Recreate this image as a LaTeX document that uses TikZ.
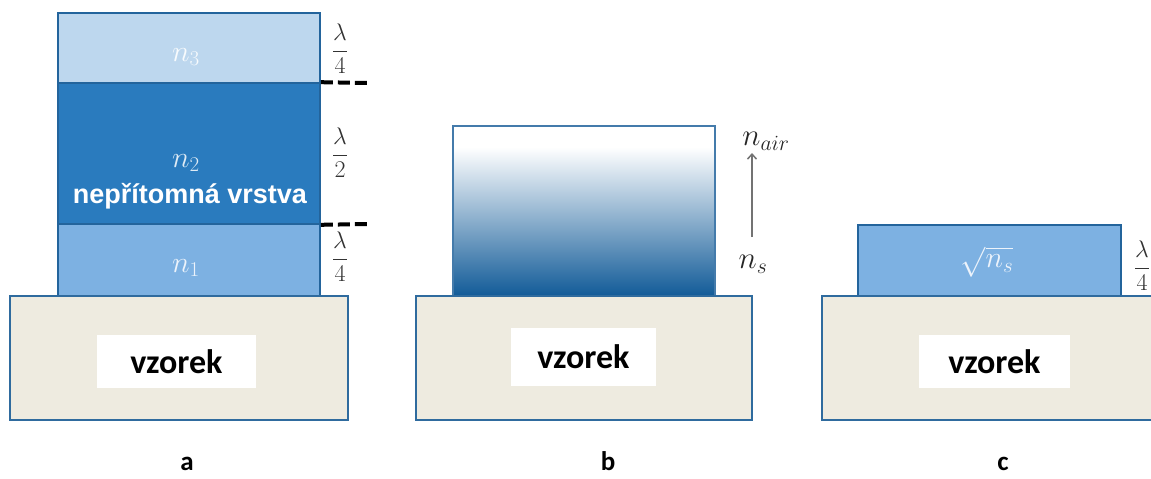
\documentclass[tikz,border=0pt]{standalone}
\usepackage{fix-cm}
\usepackage{fontspec}
\setmainfont{Carlito}
\newfontfamily\arialfont{Liberation Sans}
\usetikzlibrary{arrows.meta}
\definecolor{sfill}{HTML}{EEEBE0}
\definecolor{sborder}{HTML}{2F6B9E}
\definecolor{lborder}{HTML}{23649C}
\definecolor{cthree}{HTML}{BDD7EE}
\definecolor{ctwo}{HTML}{2A7BBE}
\definecolor{cone}{HTML}{7DB1E2}
\definecolor{bdark}{HTML}{125B98}
\definecolor{bmid}{HTML}{B0CCEA}
\definecolor{lamcol}{HTML}{333333}
\begin{document}
\begin{tikzpicture}[x=1pt,y=-1pt,
  layer/.style={draw=lborder, line width=1.6pt, inner sep=0pt},
  substrate/.style={draw=sborder, fill=sfill, line width=1.6pt, inner sep=0pt},
  whitebox/.style={fill=white, inner sep=0pt, font=\fontsize{34}{40}\selectfont\bfseries},
  lam/.style={text=lamcol, inner sep=0pt, font=\fontsize{24}{28}\selectfont},
  ntext/.style={inner sep=0pt, font=\fontsize{30}{34}\selectfont},
  side/.style={inner sep=0pt, text=black!85, font=\fontsize{31}{36}\selectfont},
  dashline/.style={line width=4pt, dash pattern=on 12pt off 5pt},
  lbl/.style={inner sep=0pt, anchor=base, font=\fontsize{27}{30}\selectfont\bfseries}
]
\useasboundingbox (0,0) rectangle (1151,479);
\clip (0,0) rectangle (1151,479);

% ---------- panel a ----------
\node[layer, fill=cthree, minimum width=262, minimum height=70] (n3) at (189,48) {};
\node[layer, fill=ctwo, minimum width=262, minimum height=141] (n2) at (189,153.5) {};
\node[layer, fill=cone, minimum width=262, minimum height=72] (n1) at (189,260) {};
\node[ntext, text=white!90!cthree] (t3) at (186,57) {$n_3$};
\node[ntext, text=white!85!ctwo] (t2) at (186,163) {$n_2$};
\node[inner sep=0pt, text=white, font=\arialfont\fontsize{27}{30}\selectfont\bfseries] (t2b) at (190,196) {nepřítomná vrstva};
\node[ntext, text=white!85!cone] (t1) at (186,268) {$n_1$};
\node[substrate, minimum width=338, minimum height=124] (sa) at (179,358) {};
\node[whitebox, minimum width=159, minimum height=53] (va) at (176.5,361.5) {vzorek};
\coordinate (d1) at (370,83);
\coordinate (d2) at (370,224);
\draw[dashline] (n2.north east) -- (d1);
\draw[dashline] (n2.south east) -- (d2);
\node[lam] (la1) at (340,49) {$\displaystyle\frac{\lambda}{4}$};
\node[lam] (la2) at (340,153) {$\displaystyle\frac{\lambda}{2}$};
\node[lam] (la3) at (340,257) {$\displaystyle\frac{\lambda}{4}$};
\node[lbl] (A) at (187,470) {a};

% ---------- panel b ----------
\fill[white] (453,126) rectangle (715,147);
\shade[top color=white, middle color=bmid, bottom color=bdark] (453,147) rectangle (715,296);
\node[layer, draw=lborder!85, minimum width=262, minimum height=170] (gb) at (584,211) {};
\node[substrate, minimum width=336, minimum height=124] (sb) at (584,358) {};
\node[whitebox, minimum width=145, minimum height=58] (vb) at (583.5,357) {vzorek};
\node[side] (nair) at (766,141) {$n_{air}$};
\node[side] (ns) at (753,264) {$n_s$};
\coordinate (arA) at (752,237);
\coordinate (arB) at (752,153);
\draw[line width=1.5pt, draw=black!55, -{Straight Barb[length=5pt,width=9pt]}] (arA) -- (arB);
\node[lbl] (B) at (608,470) {b};

% ---------- panel c ----------
\node[layer, fill=cone, minimum width=263, minimum height=71] (lc) at (989.5,260.5) {};
\node[ntext, text=white!85!cone] (tc) at (987,262) {$\sqrt{n_s}$};
\node[substrate, minimum width=343, minimum height=124] (sc) at (993.5,358) {};
\node[whitebox, minimum width=151, minimum height=53] (vc) at (994.5,361.5) {vzorek};
\node[lam] (lc1) at (1142,266) {$\displaystyle\frac{\lambda}{4}$};
\node[lbl] (C) at (1003,470) {c};
\end{tikzpicture}
\end{document}
